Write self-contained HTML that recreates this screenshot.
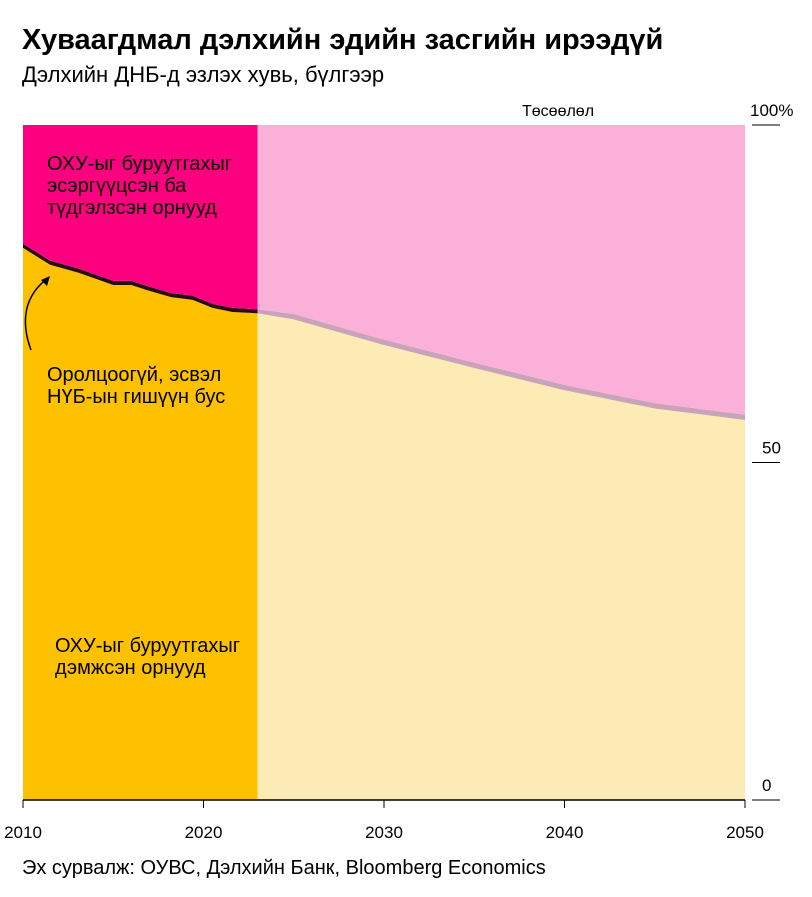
<!DOCTYPE html>
<html><head><meta charset="utf-8"><style>
body{margin:0;background:#fff;width:812px;height:897px;overflow:hidden;font-family:"Liberation Sans","DejaVu Sans",sans-serif;}
svg{position:absolute;left:0;top:0}
</style></head><body>
<svg width="812" height="897">
<text x="22" y="49" font-size="29" font-weight="bold" fill="#000">Хуваагдмал дэлхийн эдийн засгийн ирээдүй</text>
<text x="22" y="82" font-size="22" fill="#000">Дэлхийн ДНБ-д эзлэх хувь, бүлгээр</text>
<g id="plot"></g>
<text x="22" y="874" font-size="20" fill="#000">Эх сурвалж: ОУВС, Дэлхийн Банк, Bloomberg Economics</text>
</svg>
<script>
const years=[2010,2011.5,2013.1,2015,2016,2016.8,2018.2,2019.4,2020.5,2021.6,2023,2025,2030,2035,2040,2045,2050];
const supportShare=[81.8,79.3,78.1,76.3,76.3,75.6,74.5,74.1,72.9,72.3,72.1,71.2,67.4,64.0,60.7,58.0,56.3];
const neutralShare=[0.6,0.6,0.6,0.6,0.6,0.6,0.6,0.6,0.6,0.6,0.6,0.8,0.8,0.8,0.8,0.8,0.8];
const xTicks=[2010,2020,2030,2040,2050];
const yTicks=[0,50,100];
const yTickLabels=["0","50","100%"];
const forecastStart=2023;
const NS="http://www.w3.org/2000/svg";
const X=y=>23+(y-2010)*(722/40);
const Y=v=>800-v*6.75;
const g=document.getElementById('plot');
function el(t,a){const e=document.createElementNS(NS,t);for(const k in a)e.setAttribute(k,a[k]);g.appendChild(e);return e;}
function area(i0,i1,lo,hi,fill,name){
  let d="";for(let i=i0;i<=i1;i++)d+=(i===i0?"M":"L")+X(years[i])+","+Y(hi(i));
  for(let i=i1;i>=i0;i--)d+="L"+X(years[i])+","+Y(lo(i));
  const p=el('path',{d:d+"Z",fill:fill});
  
  
}
const fi=years.indexOf(forecastStart), n=years.length-1;
area(0,fi,i=>0,i=>supportShare[i],"#fdc100","area-supporters-historical");
area(0,fi,i=>supportShare[i],i=>supportShare[i]+neutralShare[i],"#2a0a14","area-neutral-historical");
area(0,fi,i=>supportShare[i]+neutralShare[i],i=>100,"#fc0080","area-opposers-historical");
area(fi,n,i=>0,i=>supportShare[i],"#fdebb6","area-supporters-forecast");
area(fi,n,i=>supportShare[i],i=>supportShare[i]+neutralShare[i],"#c9a3b8","area-neutral-forecast");
area(fi,n,i=>supportShare[i]+neutralShare[i],i=>100,"#fbb0d9","area-opposers-forecast");
let t=el('text',{x:522,y:116,'font-size':16,fill:'#000'});t.textContent="Төсөөлөл";

let b=el('line',{x1:23,x2:745,y1:800,y2:800,stroke:'#000','stroke-width':1.5});

xTicks.forEach(v=>{
  const l=el('line',{x1:X(v),x2:X(v),y1:800,y2:808,stroke:'#000'});
  
  const tx=el('text',{x:X(v),y:838,'font-size':17,'text-anchor':'middle',fill:'#000'});tx.textContent=v;
  
});
yTicks.forEach((v,i)=>{
  const l=el('line',{x1:752,x2:780,y1:Y(v),y2:Y(v),stroke:'#000'});
  
  const tx=el('text',{x:i===2?750:762,y:Y(v)-9,'font-size':17,fill:'#000'});tx.textContent=yTickLabels[i];
  
});
function lbl(lines,x,y,name){lines.forEach((s,k)=>{const tx=el('text',{x:x,y:y+k*22,'font-size':20,fill:'#000'});tx.textContent=s;
  });}
lbl(["ОХУ-ыг буруутгахыг","эсэргүүцсэн ба","түдгэлзсэн орнууд"],47,170,"label-opposers");
lbl(["Оролцоогүй, эсвэл","НҮБ-ын гишүүн бус"],47,381,"label-neutral");
lbl(["ОХУ-ыг буруутгахыг","дэмжсэн орнууд"],55,652,"label-supporters");
const ar=el('path',{d:"M31,350 C20,320 25,295 48,278",fill:'none',stroke:'#000','stroke-width':1.5});

const ah=el('path',{d:"M50,276 L41,280 L47,286 Z",fill:'#000'});

</script>
</body></html>
